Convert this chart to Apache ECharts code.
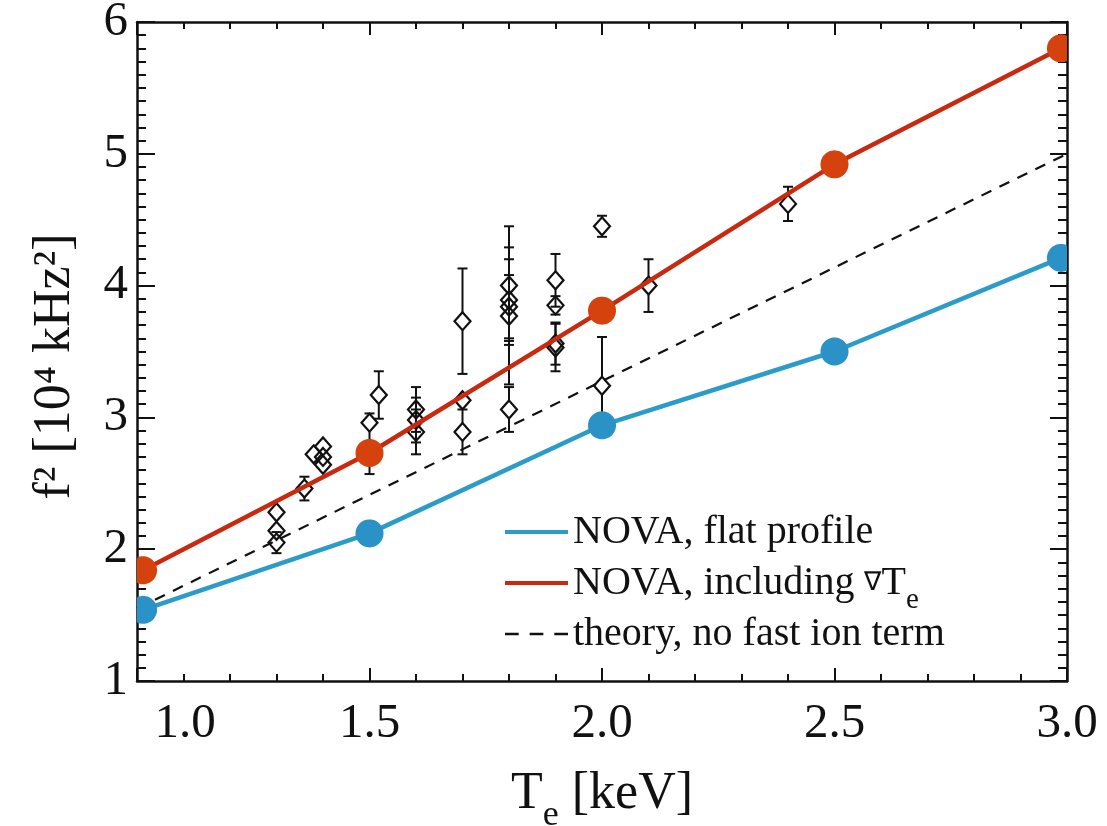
<!DOCTYPE html>
<html><head><meta charset="utf-8">
<script src="https://cdn.jsdelivr.net/npm/echarts@6/dist/echarts.min.js"></script>
<style>html,body{margin:0;padding:0;background:#fff}#c{width:1107px;height:826px}</style>
</head><body><div id="c"></div>
<script>
// ---- data ----
const xTickLabels = ['1.0', '1.5', '2.0', '2.5', '3.0'];
const novaTe = [1.013, 1.5, 2.0, 2.5, 2.987];
const novaFlat = [1.54, 2.12, 2.94, 3.50, 4.21];
const novaGrad = [1.84, 2.73, 3.81, 4.92, 5.80];
const theoryTe = [1.0, 3.0];
const theoryF2 = [1.55, 5.0];
const expTe =    [1.30, 1.30, 1.30, 1.36, 1.38, 1.40, 1.40, 1.40, 1.50, 1.52, 1.60, 1.60, 1.60, 1.70, 1.70, 1.70, 1.80, 1.80, 1.80, 1.80, 1.80, 1.90, 1.90, 1.90, 1.90, 2.00, 2.00, 2.10, 2.40];
const expF2 =    [2.28, 2.14, 2.05, 2.46, 2.72, 2.78, 2.70, 2.64, 2.96, 3.17, 3.06, 2.98, 2.89, 3.73, 3.13, 2.89, 4.00, 3.89, 3.84, 3.77, 3.06, 4.04, 3.85, 3.56, 3.53, 4.45, 3.24, 4.00, 4.62];
const expErrLo = [0.02, 0.05, 0.08, 0.09, 0.02, 0.02, 0.02, 0.02, 0.39, 0.18, 0.17, 0.17, 0.17, 0.40, 0.04, 0.17, 0.45, 0.31, 0.24, 0.52, 0.17, 0.20, 0.07, 0.16, 0.18, 0.08, 0.37, 0.20, 0.13];
const expErrHi = [0.02, 0.05, 0.08, 0.09, 0.02, 0.02, 0.02, 0.02, 0.07, 0.18, 0.17, 0.17, 0.17, 0.40, 0.04, 0.17, 0.45, 0.31, 0.24, 0.52, 0.17, 0.20, 0.07, 0.16, 0.18, 0.08, 0.37, 0.20, 0.13];

const names = ['NOVA, flat profile', 'NOVA, including ∇Te', 'theory, no fast ion term'];
const BLUE_LINE = '#2b9bc9', BLUE_DOT = '#2a92c6';
const RED_LINE = '#c8290f', RED_DOT = '#d5420e';
const FONT = 'Liberation Serif';

const zip = (a, b) => a.map((v, i) => [v, b[i]]);
const expData = expTe.map((t, i) => [t, expF2[i], expErrLo[i], expErrHi[i]]);

function renderExp(params, api) {
  const x = api.value(0), y = api.value(1), lo = api.value(2), hi = api.value(3);
  const c = api.coord([x, y]);
  const top = api.coord([x, y + hi])[1];
  const bot = api.coord([x, y - lo])[1];
  const hw = 8, hh = 9, cap = 5;
  const st = { stroke: '#111', lineWidth: 2, fill: null };
  const ch = [];
  if (top < c[1] - hh) {
    ch.push({ type: 'line', shape: { x1: c[0], y1: top, x2: c[0], y2: c[1] - hh }, style: st });
    ch.push({ type: 'line', shape: { x1: c[0] - cap, y1: top, x2: c[0] + cap, y2: top }, style: st });
  }
  if (bot > c[1] + hh) {
    ch.push({ type: 'line', shape: { x1: c[0], y1: c[1] + hh, x2: c[0], y2: bot }, style: st });
    ch.push({ type: 'line', shape: { x1: c[0] - cap, y1: bot, x2: c[0] + cap, y2: bot }, style: st });
  }
  ch.push({ type: 'polygon', shape: { points: [[c[0], c[1] - hh], [c[0] + hw, c[1]], [c[0], c[1] + hh], [c[0] - hw, c[1]]] },
            style: { stroke: '#111', lineWidth: 2.2, fill: null } });
  return { type: 'group', children: ch };
}

function dotRenderer(color) {
  return function (params, api) {
    const c = api.coord([api.value(0), api.value(1)]);
    const cs = params.coordSys;
    const r = 14, pts = [];
    for (let i = 0; i < 60; i++) {
      const a = i / 60 * Math.PI * 2;
      let px = c[0] + r * Math.cos(a), py = c[1] + r * Math.sin(a);
      px = Math.min(Math.max(px, cs.x), cs.x + cs.width);
      py = Math.min(Math.max(py, cs.y), cs.y + cs.height);
      pts.push([px, py]);
    }
    return { type: 'polygon', shape: { points: pts }, style: { fill: color } };
  };
}

const axisLineStyle = { color: '#111', width: 2.5 };
const tickStyle = { color: '#111', width: 2 };

const chart = echarts.init(document.getElementById('c'), null, { renderer: 'canvas' });
chart.setOption({
  backgroundColor: '#fff',
  animation: false,
  textStyle: { fontFamily: FONT },
  grid: { left: 137, right: 40, top: 22, bottom: 145, containLabel: false, outerBoundsMode: 'none' },
  legend: {
    orient: 'vertical', left: 500, top: 495, itemWidth: 63, itemHeight: 4, itemGap: -13,
    data: [
      { name: names[0], icon: 'rect' },
      { name: names[1], icon: 'rect' },
      { name: names[2], icon: 'path://M0,0h10v2h-10z M18,0h10v2h-10z M36,0h10v2h-10z' }
    ],
    formatter: n => n === names[1] ? 'NOVA, including {nab|∇}T{sub|e}' : n,
    textStyle: { fontSize: 40, fontFamily: FONT, color: '#111', lineHeight: 64,
      rich: {
        sub: { fontSize: 29, fontFamily: FONT, color: '#111', lineHeight: 29, verticalAlign: 'bottom' },
        nab: { fontSize: 26, fontFamily: FONT, color: '#111', lineHeight: 64 }
      } },
    selectedMode: false
  },
  xAxis: [{
    type: 'value', min: 1, max: 3, interval: 0.5, position: 'bottom',
    name: 'T{sub|e} [keV]', nameLocation: 'middle', nameGap: 69,
    nameTextStyle: { fontSize: 52, fontFamily: FONT, color: '#111', lineHeight: 80,
      rich: { sub: { fontSize: 36, fontFamily: FONT, color: '#111', lineHeight: 36, verticalAlign: 'bottom' } } },
    axisLine: { show: true, lineStyle: axisLineStyle, onZero: false },
    axisTick: { show: true, inside: true, length: 13, lineStyle: tickStyle },
    minorTick: { show: true, splitNumber: 5, length: 7, lineStyle: tickStyle },
    splitLine: { show: false }, minorSplitLine: { show: false },
    axisLabel: { fontSize: 49, fontFamily: FONT, color: '#111', margin: 19,
      formatter: v => {
        const i = Math.round((v - 1) / 0.5);
        return i === 0 ? '{first|' + xTickLabels[0] + '}' : xTickLabels[i];
      },
      rich: { first: { fontSize: 49, fontFamily: FONT, color: '#111', padding: [0, 0, 0, 96] } } }
  }, {
    type: 'value', min: 1, max: 3, interval: 0.5, position: 'top',
    axisLine: { show: true, lineStyle: axisLineStyle, onZero: false },
    axisTick: { show: true, inside: true, length: 13, lineStyle: tickStyle },
    minorTick: { show: true, splitNumber: 5, length: 7, lineStyle: tickStyle },
    splitLine: { show: false }, axisLabel: { show: false }
  }],
  yAxis: [{
    type: 'value', min: 1, max: 6, interval: 1, position: 'left',
    name: 'f² [10⁴ kHz²]', nameLocation: 'middle', nameGap: 56, nameRotate: 90,
    nameTextStyle: { fontSize: 52, fontFamily: FONT, color: '#111', padding: [0, 30, 0, 0] },
    axisLine: { show: true, lineStyle: axisLineStyle, onZero: false },
    axisTick: { show: true, inside: true, length: 18, lineStyle: tickStyle },
    minorTick: { show: true, splitNumber: 10, length: 9, lineStyle: tickStyle },
    splitLine: { show: false }, minorSplitLine: { show: false },
    axisLabel: { fontSize: 49, fontFamily: FONT, color: '#111', margin: 9 }
  }, {
    type: 'value', min: 1, max: 6, interval: 1, position: 'right',
    axisLine: { show: true, lineStyle: axisLineStyle, onZero: false },
    axisTick: { show: true, inside: true, length: 17, lineStyle: tickStyle },
    minorTick: { show: true, splitNumber: 10, length: 9, lineStyle: tickStyle },
    splitLine: { show: false }, axisLabel: { show: false }
  }],
  series: [
    { name: 'exp', type: 'custom', renderItem: renderExp, data: expData, z: 2, clip: true,
      encode: { x: 0, y: 1 } },
    { name: names[2], type: 'line', data: zip(theoryTe, theoryF2), symbol: 'none', clip: true, z: 3,
      color: '#111', lineStyle: { color: '#111', width: 2.2, type: [11, 9] } },
    { name: names[0], type: 'line', data: zip(novaTe, novaFlat), symbol: 'none', clip: true, z: 4,
      color: BLUE_LINE, lineStyle: { color: BLUE_LINE, width: 4.5 } },
    { name: names[1], type: 'line', data: zip(novaTe, novaGrad), symbol: 'none', clip: true, z: 4,
      color: RED_LINE, lineStyle: { color: RED_LINE, width: 4.5 } },
    { name: 'flatDots', type: 'custom', renderItem: dotRenderer(BLUE_DOT), data: zip(novaTe, novaFlat), z: 5,
      encode: { x: 0, y: 1 } },
    { name: 'gradDots', type: 'custom', renderItem: dotRenderer(RED_DOT), data: zip(novaTe, novaGrad), z: 5,
      encode: { x: 0, y: 1 } }
  ]
});
</script>
</body></html>
